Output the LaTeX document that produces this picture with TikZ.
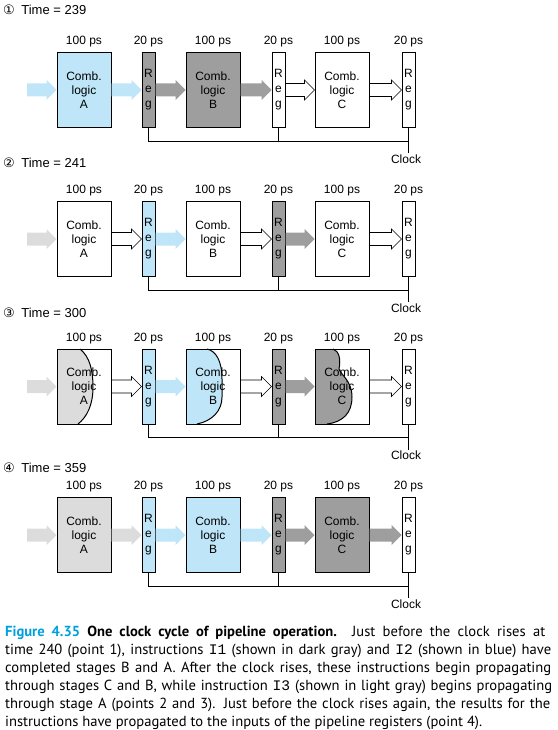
\documentclass[tikz,border=0pt]{standalone}
\usepackage{fontspec}
\setmainfont{Liberation Sans}
\setmonofont{Liberation Mono}
\newfontfamily\capfont{PT Sans}
\newfontfamily\circfont{DejaVu Sans}
\usetikzlibrary{calc}

\definecolor{iblue}{HTML}{BEE6F8}
\definecolor{idark}{HTML}{9E9E9E}
\definecolor{ilight}{HTML}{DCDCDC}
\definecolor{figcyan}{HTML}{00A0DC}

% wide block arrow between two points at the same height
\newcommand{\blockarrow}[3][]{%
  \path[#1] let \p1=(#2), \p2=(#3) in
    (\x1,\y1+6.5pt) -- (\x2-10pt,\y1+6.5pt) -- (\x2-10pt,\y1+10pt) -- (\x2,\y1)
    -- (\x2-10pt,\y1-10pt) -- (\x2-10pt,\y1-6.5pt) -- (\x1,\y1-6.5pt) -- cycle;}

\begin{document}
\begin{tikzpicture}[x=1pt, y=-1pt,
        comb/.style={draw, line width=1pt, minimum width=54pt, minimum height=75pt, inner sep=0pt, align=center, font=\fontsize{12}{14}\selectfont},
        reg/.style={draw, line width=1pt, minimum width=13pt, minimum height=75pt, inner sep=0pt, align=center, font=\fontsize{12}{15}\selectfont},
        ps/.style={inner sep=1pt, font=\fontsize{12}{14}\selectfont},
        timelabel/.style={anchor=west, inner sep=0pt, font=\fontsize{13}{15}\selectfont},
        clocklabel/.style={inner sep=1pt, font=\fontsize{12}{14}\selectfont},
        wire/.style={line width=0.9pt},
        hollow/.style={draw, fill=white, line width=0.6pt},
        front/.style={line width=1pt},
    ]
    \useasboundingbox (0,0) rectangle (557,730);

    % Column x-positions
    \def\cA{84}     % comb. logic A
    \def\rA{148.5}  % register after A
    \def\cB{213}    % comb. logic B
    \def\rB{278.5}  % register after B
    \def\cC{342}    % comb. logic C
    \def\rC{408.5}  % register after C

    % ===== Time = 239 =====
    \def\y{90}
    \node[timelabel] (time1) at (3, 10) {{\circfont ①}\enspace Time = 239};
    \node[ps] (psA1) at (\cA, \y-48) {100 ps}; \node[ps] (psRA1) at (\rA, \y-48) {20 ps}; \node[ps] (psB1) at (\cB, \y-48) {100 ps}; \node[ps] (psRB1) at (\rB, \y-48) {20 ps}; \node[ps] (psC1) at (\cC, \y-48) {100 ps}; \node[ps] (psRC1) at (\rC, \y-48) {20 ps};
    \node[comb, fill=iblue] (combA1) at (\cA, \y) {Comb.\\logic\\A};
    \node[reg, fill=idark] (regA1) at (\rA, \y) {R\\e\\g};
    \node[comb, fill=idark] (combB1) at (\cB, \y) {Comb.\\logic\\B};
    \node[reg] (regB1) at (\rB, \y) {R\\e\\g};
    \node[comb] (combC1) at (\cC, \y) {Comb.\\logic\\C};
    \node[reg] (regC1) at (\rC, \y) {R\\e\\g};
    \coordinate (in1) at (27, \y);
    \blockarrow[fill=iblue]{in1}{combA1.west}
    \blockarrow[fill=iblue]{combA1.east}{regA1.west}
    \blockarrow[fill=idark]{regA1.east}{combB1.west}
    \blockarrow[fill=idark]{combB1.east}{regB1.west}
    \blockarrow[hollow]{regB1.east}{combC1.west}
    \blockarrow[hollow]{combC1.east}{regC1.west}
    \node[clocklabel] (clk1) at (406, \y+69) {Clock};
    \coordinate (bus1) at (\rA, \y+51);
    \draw[wire] (regA1.south) -- (bus1) -| (regC1.south);
    \draw[wire] (regB1.south) -- (regB1.south |- bus1);
    \draw[wire] (regC1.south) -- (regC1.south |- clk1.north);

    % ===== Time = 241 =====
    \def\y{239}
    \node[timelabel] (time2) at (3, 163) {{\circfont ②}\enspace Time = 241};
    \node[ps] (psA2) at (\cA, \y-48) {100 ps}; \node[ps] (psRA2) at (\rA, \y-48) {20 ps}; \node[ps] (psB2) at (\cB, \y-48) {100 ps}; \node[ps] (psRB2) at (\rB, \y-48) {20 ps}; \node[ps] (psC2) at (\cC, \y-48) {100 ps}; \node[ps] (psRC2) at (\rC, \y-48) {20 ps};
    \node[comb] (combA2) at (\cA, \y) {Comb.\\logic\\A};
    \node[reg, fill=iblue] (regA2) at (\rA, \y) {R\\e\\g};
    \node[comb] (combB2) at (\cB, \y) {Comb.\\logic\\B};
    \node[reg, fill=idark] (regB2) at (\rB, \y) {R\\e\\g};
    \node[comb] (combC2) at (\cC, \y) {Comb.\\logic\\C};
    \node[reg] (regC2) at (\rC, \y) {R\\e\\g};
    \coordinate (in2) at (27, \y);
    \blockarrow[fill=ilight]{in2}{combA2.west}
    \blockarrow[hollow]{combA2.east}{regA2.west}
    \blockarrow[fill=iblue]{regA2.east}{combB2.west}
    \blockarrow[hollow]{combB2.east}{regB2.west}
    \blockarrow[fill=idark]{regB2.east}{combC2.west}
    \blockarrow[hollow]{combC2.east}{regC2.west}
    \node[clocklabel] (clk2) at (406, \y+69) {Clock};
    \coordinate (bus2) at (\rA, \y+51);
    \draw[wire] (regA2.south) -- (bus2) -| (regC2.south);
    \draw[wire] (regB2.south) -- (regB2.south |- bus2);
    \draw[wire] (regC2.south) -- (regC2.south |- clk2.north);

    % ===== Time = 300 =====
    \def\y{386.5}
    \node[timelabel] (time3) at (3, 313) {{\circfont ③}\enspace Time = 300};
    \node[ps] (psA3) at (\cA, \y-48) {100 ps}; \node[ps] (psRA3) at (\rA, \y-48) {20 ps}; \node[ps] (psB3) at (\cB, \y-48) {100 ps}; \node[ps] (psRB3) at (\rB, \y-48) {20 ps}; \node[ps] (psC3) at (\cC, \y-48) {100 ps}; \node[ps] (psRC3) at (\rC, \y-48) {20 ps};
    % partly filled logic (signals still propagating)
    \begin{scope}[shift={(\cA-27, \y-37.5)}]
      \fill[ilight] (0,0) -- (23,0) .. controls (33,8) and (36,22) .. (36,38) .. controls (36,56) and (30,68) .. (21,75) -- (0,75) -- cycle;
      \draw[front] (23,0) .. controls (33,8) and (36,22) .. (36,38) .. controls (36,56) and (30,68) .. (21,75);
    \end{scope}
    \begin{scope}[shift={(\cB-27, \y-37.5)}]
      \fill[iblue] (0,0) -- (21,0) .. controls (30,2) and (36,12) .. (36,30) -- (36,48) .. controls (36,62) and (26,72) .. (11,75) -- (0,75) -- cycle;
      \draw[front] (21,0) .. controls (30,2) and (36,12) .. (36,30) -- (36,48) .. controls (36,62) and (26,72) .. (11,75);
    \end{scope}
    \begin{scope}[shift={(\cC-27, \y-37.5)}]
      \fill[idark] (0,0) -- (18,0) .. controls (24,2) and (26,10) .. (24,20) .. controls (26,26) and (37,32) .. (37,48) .. controls (37,64) and (28,73) .. (12,75) -- (0,75) -- cycle;
      \draw[front] (18,0) .. controls (24,2) and (26,10) .. (24,20) .. controls (26,26) and (37,32) .. (37,48) .. controls (37,64) and (28,73) .. (12,75);
    \end{scope}
    \node[comb] (combA3) at (\cA, \y) {Comb.\\logic\\A};
    \node[reg, fill=iblue] (regA3) at (\rA, \y) {R\\e\\g};
    \node[comb] (combB3) at (\cB, \y) {Comb.\\logic\\B};
    \node[reg, fill=idark] (regB3) at (\rB, \y) {R\\e\\g};
    \node[comb] (combC3) at (\cC, \y) {Comb.\\logic\\C};
    \node[reg] (regC3) at (\rC, \y) {R\\e\\g};
    \coordinate (in3) at (27, \y);
    \blockarrow[fill=ilight]{in3}{combA3.west}
    \blockarrow[hollow]{combA3.east}{regA3.west}
    \blockarrow[fill=iblue]{regA3.east}{combB3.west}
    \blockarrow[hollow]{combB3.east}{regB3.west}
    \blockarrow[fill=idark]{regB3.east}{combC3.west}
    \blockarrow[hollow]{combC3.east}{regC3.west}
    \node[clocklabel] (clk3) at (406, \y+69) {Clock};
    \coordinate (bus3) at (\rA, \y+51);
    \draw[wire] (regA3.south) -- (bus3) -| (regC3.south);
    \draw[wire] (regB3.south) -- (regB3.south |- bus3);
    \draw[wire] (regC3.south) -- (regC3.south |- clk3.north);

    % ===== Time = 359 =====
    \def\y{535}
    \node[timelabel] (time4) at (3, 468) {{\circfont ④}\enspace Time = 359};
    \node[ps] (psA4) at (\cA, \y-48) {100 ps}; \node[ps] (psRA4) at (\rA, \y-48) {20 ps}; \node[ps] (psB4) at (\cB, \y-48) {100 ps}; \node[ps] (psRB4) at (\rB, \y-48) {20 ps}; \node[ps] (psC4) at (\cC, \y-48) {100 ps}; \node[ps] (psRC4) at (\rC, \y-48) {20 ps};
    \node[comb, fill=ilight] (combA4) at (\cA, \y) {Comb.\\logic\\A};
    \node[reg, fill=iblue] (regA4) at (\rA, \y) {R\\e\\g};
    \node[comb, fill=iblue] (combB4) at (\cB, \y) {Comb.\\logic\\B};
    \node[reg, fill=idark] (regB4) at (\rB, \y) {R\\e\\g};
    \node[comb, fill=idark] (combC4) at (\cC, \y) {Comb.\\logic\\C};
    \node[reg] (regC4) at (\rC, \y) {R\\e\\g};
    \coordinate (in4) at (27, \y);
    \blockarrow[fill=ilight]{in4}{combA4.west}
    \blockarrow[fill=ilight]{combA4.east}{regA4.west}
    \blockarrow[fill=iblue]{regA4.east}{combB4.west}
    \blockarrow[fill=iblue]{combB4.east}{regB4.west}
    \blockarrow[fill=idark]{regB4.east}{combC4.west}
    \blockarrow[fill=idark]{combC4.east}{regC4.west}
    \node[clocklabel] (clk4) at (406, \y+69) {Clock};
    \coordinate (bus4) at (\rA, \y+51);
    \draw[wire] (regA4.south) -- (bus4) -| (regC4.south);
    \draw[wire] (regB4.south) -- (regB4.south |- bus4);
    \draw[wire] (regC4.south) -- (regC4.south |- clk4.north);

    % ===== Caption =====
    \node[anchor=north west, inner sep=0pt, text width=547pt, font=\capfont\fontsize{14.6}{18}\selectfont] (caption) at (5, 626) {%
      \spaceskip=0pt\xspaceskip=0pt\relax
      \makebox[540pt][s]{{\color{figcyan}\bfseries Figure 4.35}\enspace{\bfseries One clock cycle of pipeline operation.} Just before the clock rises at}\\
      \makebox[546pt][s]{time 240 (point 1), instructions \texttt{I1} (shown in dark gray) and \texttt{I2} (shown in blue) have}\\
      \makebox[546pt][s]{completed stages B and A. After the clock rises, these instructions begin propagating}\\
      \makebox[547pt][s]{through stages C and B, while instruction \texttt{I3} (shown in light gray) begins propagating}\\
      \makebox[545pt][s]{through stage A (points 2 and 3). Just before the clock rises again, the results for the}\\
      instructions have propagated to the inputs of the pipeline registers (point 4).};

\end{tikzpicture}
\end{document}
